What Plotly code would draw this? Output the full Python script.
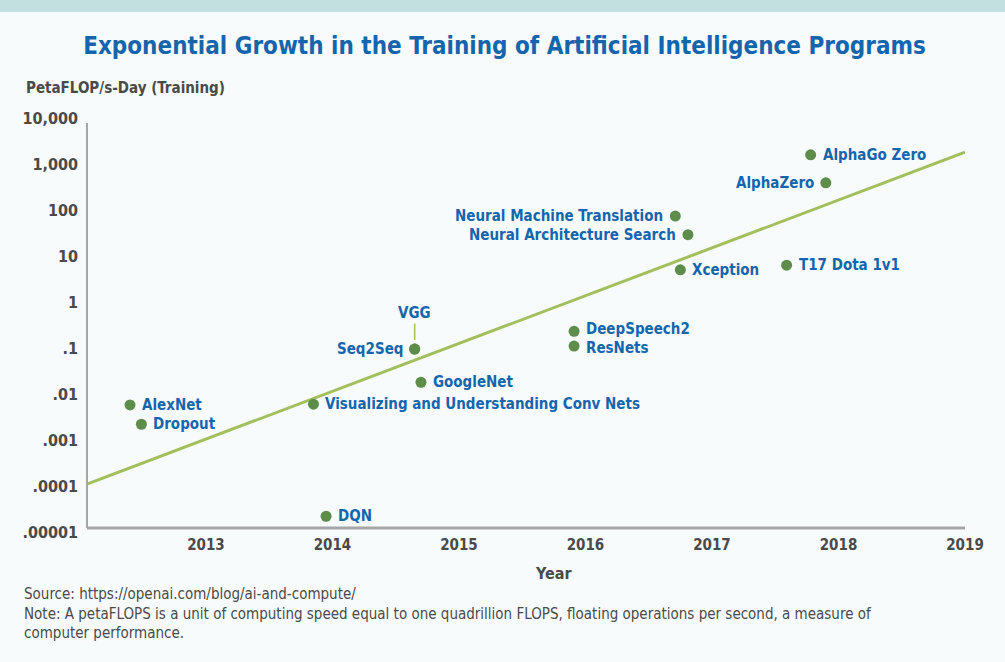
import math
import plotly.graph_objects as go

# ---- data ----
models = ["AlexNet", "Dropout", "Visualizing and Understanding Conv Nets", "DQN",
          "Seq2Seq", "VGG", "GoogleNet", "DeepSpeech2", "ResNets",
          "Neural Machine Translation", "Neural Architecture Search", "Xception",
          "T17 Dota 1v1", "AlphaGo Zero", "AlphaZero"]
years = [2012.40, 2012.49, 2013.85, 2013.95,
         2014.65, 2014.65, 2014.70, 2015.91, 2015.91,
         2016.71, 2016.81, 2016.75,
         2017.59, 2017.78, 2017.90]
petaflop_days = [0.0058, 0.0022, 0.006, 0.000022,
                 0.095, 0.095, 0.018, 0.23, 0.11,
                 74, 29, 5.0,
                 6.3, 1580, 390]
label_side = ["right", "right", "right", "right",
              "left", "above", "right", "right", "right",
              "left", "left", "right",
              "right", "right", "left"]

trend_years = [2012.06, 2019.0]
trend_values = [0.00011, 1800]

y_tickvals = [1e-5, 1e-4, 1e-3, 1e-2, 1e-1, 1, 10, 100, 1000, 10000]
y_ticktext = [".00001", ".0001", ".001", ".01", ".1", "1", "10", "100", "1,000", "10,000"]
x_tickvals = [2013, 2014, 2015, 2016, 2017, 2018, 2019]

# ---- style ----
NARROW = "Liberation Sans Narrow, DejaVu Sans Condensed, Arial Narrow, sans-serif"
BG = "#f7fbfc"
BLUE = "#1565ad"
GREEN = "#5e8c4a"
LINE = "#a3bf5c"
GRAY = "#4a4a4a"
AXIS = "#a6a6a6"
LABEL_NUDGE = {"DeepSpeech2": 2, "ResNets": -2}

W, H = 1005, 662
ML, MR, MT, MB = 87, 40, 118, 130
PW, PH = W - ML - MR, H - MT - MB


def px_x(p):
    return (p - ML) / PW


def px_y(p):
    return 1 - (p - MT) / PH


fig = go.Figure()

fig.add_trace(go.Scatter(
    x=trend_years, y=trend_values, mode="lines",
    line=dict(color=LINE, width=3), hoverinfo="skip", showlegend=False))

fig.add_trace(go.Scatter(
    x=years, y=petaflop_days, mode="markers", text=models,
    marker=dict(color=GREEN, size=11),
    showlegend=False))

label_font = dict(family=NARROW, size=15, color=BLUE)
for name, xv, yv, side in zip(models, years, petaflop_days, label_side):
    if side == "above":
        fig.add_annotation(x=xv, y=math.log10(yv), xref="x", yref="y",
                           text=f"<b>{name}</b>", showarrow=True, arrowhead=0,
                           arrowwidth=1.5, arrowcolor=LINE, ax=0, ay=-36, standoff=9,
                           font=label_font)
    else:
        fig.add_annotation(x=xv, y=math.log10(yv), xref="x", yref="y",
                           text=f"<b>{name}</b>", showarrow=False,
                           xanchor="left" if side == "right" else "right",
                           xshift=10 if side == "right" else -10,
                           yshift=LABEL_NUDGE.get(name, 0),
                           font=label_font)

# axis lines as shapes
fig.add_shape(type="line", xref="paper", yref="paper", x0=0, x1=0,
              y0=px_y(528), y1=px_y(123), line=dict(color=AXIS, width=2))
fig.add_shape(type="line", xref="paper", yref="paper", x0=0, x1=1,
              y0=px_y(528), y1=px_y(528), line=dict(color=AXIS, width=3))

# teal band at top of page
fig.add_shape(type="rect", xref="paper", yref="paper",
              x0=px_x(-5), x1=px_x(W + 5), y0=px_y(0), y1=px_y(12),
              line=dict(width=0), fillcolor="#c2e0e0", layer="below")

fig.update_layout(
    width=W, height=H,
    paper_bgcolor=BG, plot_bgcolor=BG,
    margin=dict(l=ML, r=MR, t=MT, b=MB, autoexpand=False),
    title=dict(text="<b>Exponential Growth in the Training of Artificial Intelligence Programs</b>",
               x=0.502, xref="container", xanchor="center", y=1 - 46 / H, yref="container",
               yanchor="middle",
               font=dict(family=NARROW, size=24, color=BLUE)),
    xaxis=dict(range=[2012.06, 2019.0], tickvals=x_tickvals, showgrid=False,
               zeroline=False, showline=False, ticks="", automargin=False,
               ticklabelstandoff=2,
               tickfont=dict(family=NARROW, size=15, color=GRAY, weight="bold")),
    yaxis=dict(type="log", range=[-5, 4], tickvals=y_tickvals, ticktext=y_ticktext,
               showgrid=False, zeroline=False, showline=False, ticks="", automargin=False,
               ticklabelstandoff=8,
               tickfont=dict(family=NARROW, size=16, color=GRAY, weight="bold")),
)

fig.add_annotation(xref="paper", yref="paper", x=px_x(24), y=px_y(88),
                   xanchor="left", yanchor="middle", showarrow=False,
                   text="<b>PetaFLOP/s-Day (Training)</b>",
                   font=dict(family=NARROW, size=15, color=GRAY))
fig.add_annotation(xref="paper", yref="paper", x=px_x(553), y=px_y(573),
                   xanchor="center", yanchor="middle", showarrow=False,
                   text="<b>Year</b>", font=dict(family=NARROW, size=16, color=GRAY))
fig.add_annotation(xref="paper", yref="paper", x=px_x(22), y=px_y(583),
                   xanchor="left", yanchor="top", showarrow=False, align="left",
                   text="Source: https://openai.com/blog/ai-and-compute/<br>"
                        "Note: A petaFLOPS is a unit of computing speed equal to one quadrillion FLOPS, floating operations per second, a measure of<br>"
                        "computer performance.",
                   font=dict(family=NARROW, size=15, color=GRAY))

fig.write_html("out.html", config={"displayModeBar": False},
               post_script="document.body.style.margin='0px';")
